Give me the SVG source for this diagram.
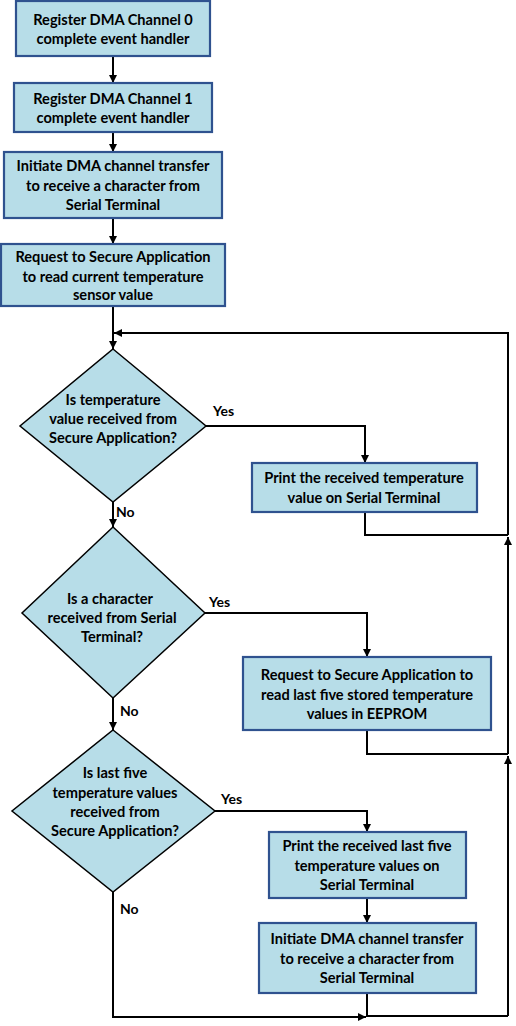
<svg xmlns="http://www.w3.org/2000/svg" width="516" height="1026" viewBox="0 0 516 1026">
<defs>
<marker id="ah" markerUnits="userSpaceOnUse" markerWidth="9" markerHeight="9" refX="8" refY="4" orient="auto"><path d="M0,0 L8,4 L0,8 z" fill="#000"/></marker>
<style>
.box{fill:#b7dde8;stroke:#2f528f;stroke-width:2.2}
.dia{fill:#b7dde8;stroke:#000;stroke-width:1.5}
.t{font-family:Lato,"Liberation Sans",sans-serif;font-weight:bold;font-size:14.6px;fill:#000;text-anchor:middle}
.l{font-family:Lato,"Liberation Sans",sans-serif;font-weight:bold;font-size:14px;fill:#000}
.c{fill:none;stroke:#000;stroke-width:2}
.a{marker-end:url(#ah)}
</style>
</defs>
<rect width="516" height="1026" fill="#fff"/>
<g id="connectors">
<path class="c a" d="M113,56 V83"/>
<path class="c a" d="M113,132 V152"/>
<path class="c a" d="M113,218 V244"/>
<path class="c a" d="M113,306 V349"/>
<path class="c a" d="M508,535 V333 H114"/>
<path class="c a" d="M206,426 H365 V463"/>
<path class="c" d="M365,512 V535 H508"/>
<path class="c a" d="M508,754 V537"/>
<path class="c a" d="M113,502 V527"/>
<path class="c a" d="M205,613 H367 V657"/>
<path class="c" d="M367,730 V754 H508"/>
<path class="c a" d="M508,1016 V756"/>
<path class="c a" d="M113,698 V730"/>
<path class="c a" d="M215,811 H367 V832"/>
<path class="c a" d="M367,898 V923"/>
<path class="c" d="M367,993 V1016 H508"/>
<path class="c a" d="M113,892 V1017 H366"/>
<text class="l" x="213" y="416">Yes</text>
<text class="l" x="116" y="517">No</text>
<text class="l" x="209" y="607">Yes</text>
<text class="l" x="120" y="716">No</text>
<text class="l" x="221" y="804">Yes</text>
<text class="l" x="120" y="914">No</text>
</g>
<g id="n1"><rect class="box" x="16" y="1" width="194" height="55"/>
<text class="t" x="113" y="25">Register DMA Channel 0</text><text class="t" x="113" y="44">complete event handler</text></g>
<g id="n2"><rect class="box" x="14" y="83" width="198" height="49"/>
<text class="t" x="113" y="104">Register DMA Channel 1</text><text class="t" x="113" y="123">complete event handler</text></g>
<g id="n3"><rect class="box" x="4" y="152" width="218" height="66"/>
<text class="t" x="113" y="171">Initiate DMA channel transfer</text><text class="t" x="113" y="191">to receive a character from</text><text class="t" x="113" y="210">Serial Terminal</text></g>
<g id="n4"><rect class="box" x="1" y="244" width="224" height="62"/>
<text class="t" x="113" y="262">Request to Secure Application</text><text class="t" x="113" y="282">to read current temperature</text><text class="t" x="113" y="300">sensor value</text></g>
<g id="d1"><path class="dia" d="M113,349 L206,426 L113,502 L20,426 Z"/>
<text class="t" x="113" y="405">Is temperature</text><text class="t" x="113" y="424">value received from</text><text class="t" x="113" y="443">Secure Application?</text></g>
<g id="p1"><rect class="box" x="252" y="463" width="225" height="49"/>
<text class="t" x="364" y="483">Print the received temperature</text><text class="t" x="364" y="503">value on Serial Terminal</text></g>
<g id="d2"><path class="dia" d="M113,527 L205,613 L113,698 L22,613 Z"/>
<text class="t" x="110" y="604">Is a character</text><text class="t" x="112" y="623">received from Serial</text><text class="t" x="112" y="642">Terminal?</text></g>
<g id="p2"><rect class="box" x="243" y="657" width="248" height="73"/>
<text class="t" x="367" y="680">Request to Secure Application to</text><text class="t" x="367" y="700">read last five stored temperature</text><text class="t" x="367" y="719">values in EEPROM</text></g>
<g id="d3"><path class="dia" d="M113,730 L215,811 L113,892 L12,811 Z"/>
<text class="t" x="115" y="778">Is last five</text><text class="t" x="115" y="798">temperature values</text><text class="t" x="115" y="817">received from</text><text class="t" x="115" y="836">Secure Application?</text></g>
<g id="p3"><rect class="box" x="269" y="832" width="197" height="66"/>
<text class="t" x="367" y="851">Print the received last five</text><text class="t" x="367" y="871">temperature values on</text><text class="t" x="367" y="890">Serial Terminal</text></g>
<g id="p4"><rect class="box" x="259" y="923" width="217" height="70"/>
<text class="t" x="367" y="944">Initiate DMA channel transfer</text><text class="t" x="367" y="964">to receive a character from</text><text class="t" x="367" y="983">Serial Terminal</text></g>
</svg>
